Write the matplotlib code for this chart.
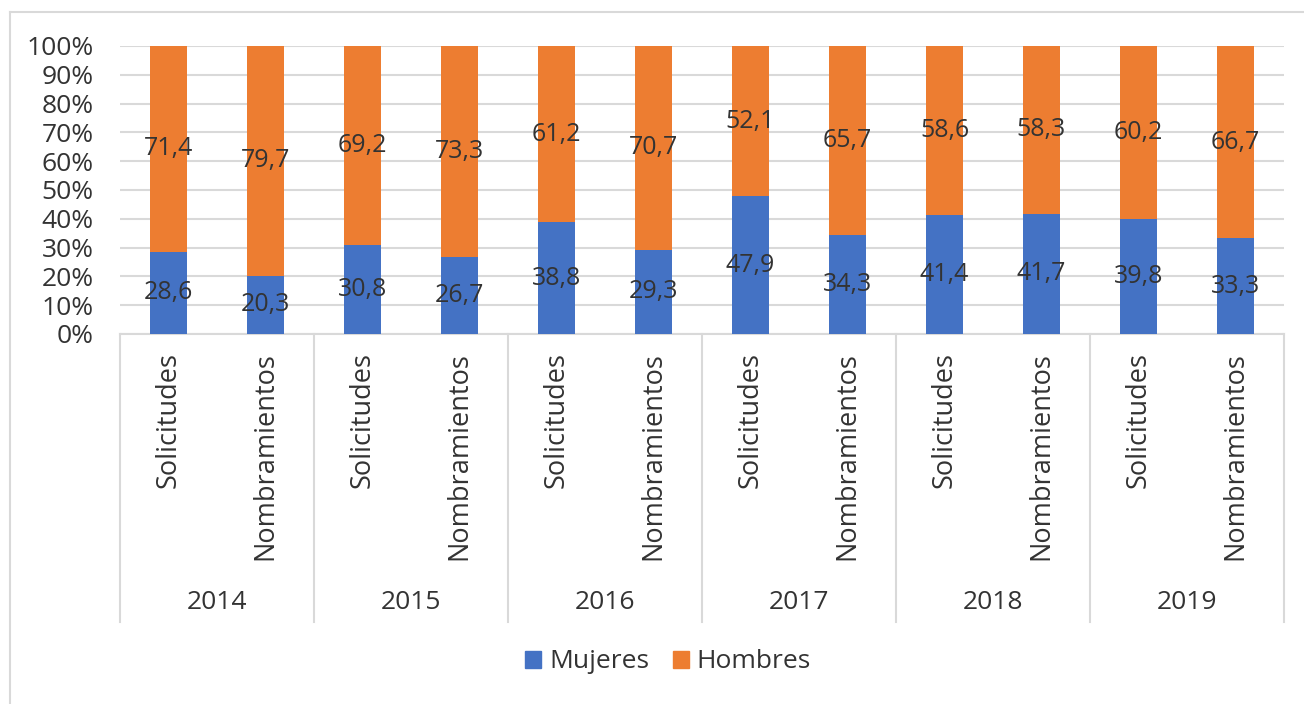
import numpy as np
import matplotlib
matplotlib.use("Agg")
import matplotlib.pyplot as plt
from matplotlib.patches import Patch
from matplotlib.lines import Line2D
import matplotlib.transforms as mtransforms

plt.rcParams['font.family'] = ['Open Sans', 'DejaVu Sans']

years = ['2014', '2015', '2016', '2017', '2018', '2019']
tipos = ['Solicitudes', 'Nombramientos']
mujeres = [28.6, 20.3, 30.8, 26.7, 38.8, 29.3, 47.9, 34.3, 41.4, 41.7, 39.8, 33.3]
hombres = [71.4, 79.7, 69.2, 73.3, 61.2, 70.7, 52.1, 65.7, 58.6, 58.3, 60.2, 66.7]

azul = '#4472C4'
naranja = '#ED7D31'
gris = '#D9D9D9'
texto = '#333333'

W, H = 1304, 704
fig = plt.figure(figsize=(W / 100, H / 100), dpi=100)
# area del grafico en pixeles
x0, x1, ytop, ybot = 120, 1284, 46, 334
ax = fig.add_axes([x0 / W, 1 - ybot / H, (x1 - x0) / W, (ybot - ytop) / H])

x = np.arange(len(mujeres))
b1 = ax.bar(x, mujeres, width=0.39, color=azul, zorder=3)
b2 = ax.bar(x, hombres, width=0.39, bottom=mujeres, color=naranja, zorder=3)

fmt = lambda v: f"{v:.1f}".replace('.', ',')
ax.bar_label(b1, labels=[fmt(v) for v in mujeres], label_type='center',
             fontsize=18, color=texto, zorder=4)
ax.bar_label(b2, labels=[fmt(v) for v in hombres], label_type='center',
             fontsize=18, color=texto, zorder=4)

ax.set_xlim(-0.5, len(mujeres) - 0.5)
ax.set_ylim(0, 100)
ax.set_yticks(np.arange(0, 101, 10))
ax.set_yticklabels([f"{v}%" for v in range(0, 101, 10)])
ax.yaxis.grid(True, color=gris, linewidth=1.5, zorder=0)
ax.tick_params(axis='y', length=0, pad=19, labelsize=19, labelcolor=texto)

ax.set_xticks(x)
ax.set_xticklabels(tipos * len(years), rotation=90)
ax.tick_params(axis='x', length=0, pad=13, labelsize=19.5, labelcolor=texto)

for s in ['top', 'right', 'left']:
    ax.spines[s].set_visible(False)
ax.spines['bottom'].set_color(gris)
ax.spines['bottom'].set_linewidth(1.5)

# separadores y etiquetas de año
trans = mtransforms.blended_transform_factory(ax.transData, ax.transAxes)
for k in range(len(years) + 1):
    ax.add_line(Line2D([2 * k - 0.5, 2 * k - 0.5], [0, -1.0], transform=trans,
                       color=gris, linewidth=1.5, clip_on=False))
for k, yr in enumerate(years):
    ax.text(2 * k + 0.5, -0.934, yr, transform=trans, ha='center', va='center',
            fontsize=19, color=texto)

# marco exterior
fig.add_artist(Line2D([10 / W, 10 / W], [0, 1 - 12 / H], transform=fig.transFigure,
                      color=gris, linewidth=1.5))
fig.add_artist(Line2D([10 / W, 1], [1 - 12 / H, 1 - 12 / H], transform=fig.transFigure,
                      color=gris, linewidth=1.5))

handles = [Patch(color=azul, label='Mujeres'), Patch(color=naranja, label='Hombres')]
fig.legend(handles=handles, loc='center', bbox_to_anchor=(668 / W, 1 - 662 / H),
           ncol=2, frameon=False, fontsize=19, handlelength=0.6, handleheight=0.6,
           handletextpad=0.3, columnspacing=0.9, labelcolor=texto)

fig.savefig('out.png', dpi=100)
